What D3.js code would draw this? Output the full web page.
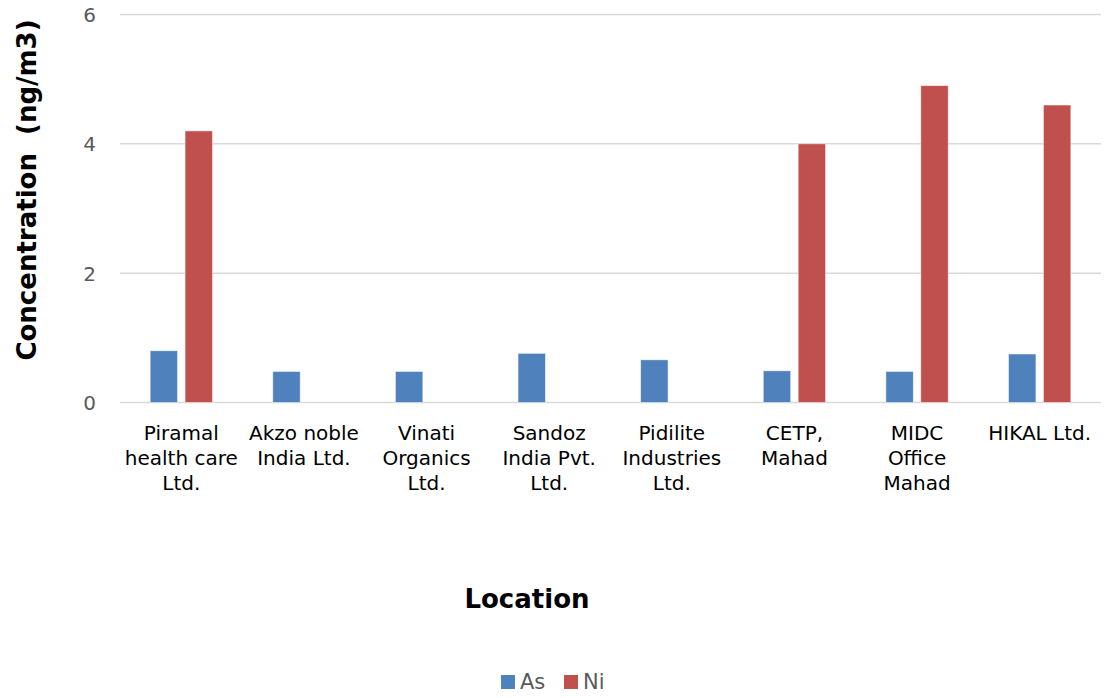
<!DOCTYPE html>
<html>
<head>
<meta charset="utf-8">
<script src="https://cdn.jsdelivr.net/npm/d3@7"></script>
<style>
  body { margin: 0; background: #fff; }
  svg text { font-family: "DejaVu Sans", Verdana, sans-serif; }
</style>
</head>
<body>
<svg width="1110" height="698"></svg>
<script>
// chart data
const locations = [
  ["Piramal", "health care", "Ltd."],
  ["Akzo noble", "India Ltd."],
  ["Vinati", "Organics", "Ltd."],
  ["Sandoz", "India Pvt.", "Ltd."],
  ["Pidilite", "Industries", "Ltd."],
  ["CETP,", "Mahad"],
  ["MIDC", "Office", "Mahad"],
  ["HIKAL Ltd."]
];
const seriesNames = ["As", "Ni"];
const asValues = [0.8, 0.48, 0.48, 0.76, 0.66, 0.49, 0.48, 0.75];
const niValues = [4.2, 0, 0, 0, 0, 4.0, 4.9, 4.6];
const yTicks = [0, 2, 4, 6];
const colors = ["#4F81BD", "#C0504D"];

const svg = d3.select("svg");
const margin = { top: 14.5, left: 120, right: 9, bottom: 295.5 };
const width = +svg.attr("width");
const height = +svg.attr("height");

const keys = locations.map((d, i) => i);
const table = keys.map(i => ({ i: i, values: [asValues[i], niValues[i]] }));

const x = d3.scaleBand()
  .domain(keys)
  .range([margin.left, width - margin.right])
  .paddingInner(0)
  .paddingOuter(0);

const y = d3.scaleLinear()
  .domain([0, 6])
  .range([height - margin.bottom, margin.top]);

const xSub = d3.scaleBand()
  .domain([0, 1])
  .range([0, x.bandwidth()])
  .paddingInner(0.215)
  .paddingOuter(0.864);

// gridlines
svg.append("g")
  .selectAll("line")
  .data(yTicks)
  .join("line")
  .attr("x1", margin.left)
  .attr("x2", width - margin.right)
  .attr("y1", d => y(d))
  .attr("y2", d => y(d))
  .attr("stroke", "#D9D9D9")
  .attr("stroke-width", 1.5);

// y axis labels
const yAxis = d3.axisLeft(y).tickValues(yTicks).tickSize(0).tickPadding(24).tickFormat(d3.format("d"));
const yg = svg.append("g")
  .attr("transform", `translate(${margin.left},0)`)
  .call(yAxis);
yg.select(".domain").remove();
yg.selectAll("text")
  .attr("fill", "#595959")
  .style("font-size", "20px")
  .attr("dy", "0.35em");

// bars
const groups = svg.append("g")
  .selectAll("g")
  .data(table)
  .join("g")
  .attr("transform", d => `translate(${x(d.i)},0)`);

groups.selectAll("rect")
  .data(d => d.values.map((v, k) => ({ k: k, v: v })).filter(e => e.v > 0))
  .join("rect")
  .attr("x", e => xSub(e.k))
  .attr("width", xSub.bandwidth())
  .attr("y", e => y(e.v))
  .attr("height", e => y(0) - y(e.v))
  .attr("fill", e => colors[e.k])
  .attr("stroke", "#fff")
  .attr("stroke-opacity", 0.6)
  .attr("stroke-width", 0.8);

// x category labels
const xAxis = d3.axisBottom(x).tickSize(0).tickFormat("");
const xg = svg.append("g")
  .attr("transform", `translate(0,${y(0)})`)
  .call(xAxis);
xg.select(".domain").remove();
xg.selectAll(".tick").each(function (d) {
  const t = d3.select(this).append("text")
    .attr("fill", "#000")
    .attr("text-anchor", "middle")
    .style("font-size", "20px");
  locations[d].forEach((line, j) => {
    t.append("tspan")
      .attr("x", 0)
      .attr("y", 37 + j * 25)
      .text(line);
  });
});

// axis titles
svg.append("text")
  .attr("transform", "translate(36,190) rotate(-90)")
  .attr("text-anchor", "middle")
  .style("font-size", "26px")
  .style("font-weight", "bold")
  .attr("fill", "#000")
  .attr("xml:space", "preserve")
  .text("Concentration  (ng/m3)");

svg.append("text")
  .attr("x", 527)
  .attr("y", 608)
  .attr("text-anchor", "middle")
  .style("font-size", "26px")
  .style("font-weight", "bold")
  .attr("fill", "#000")
  .text("Location");

// legend
const legend = svg.append("g")
  .selectAll("g")
  .data(seriesNames)
  .join("g")
  .attr("transform", (d, i) => `translate(${501 + i * 63},675)`);
legend.append("rect")
  .attr("width", 14)
  .attr("height", 14)
  .attr("fill", (d, i) => colors[i]);
legend.append("text")
  .attr("x", 19)
  .attr("y", 14)
  .attr("fill", "#595959")
  .style("font-size", "21px")
  .text(d => d);
</script>
</body>
</html>
